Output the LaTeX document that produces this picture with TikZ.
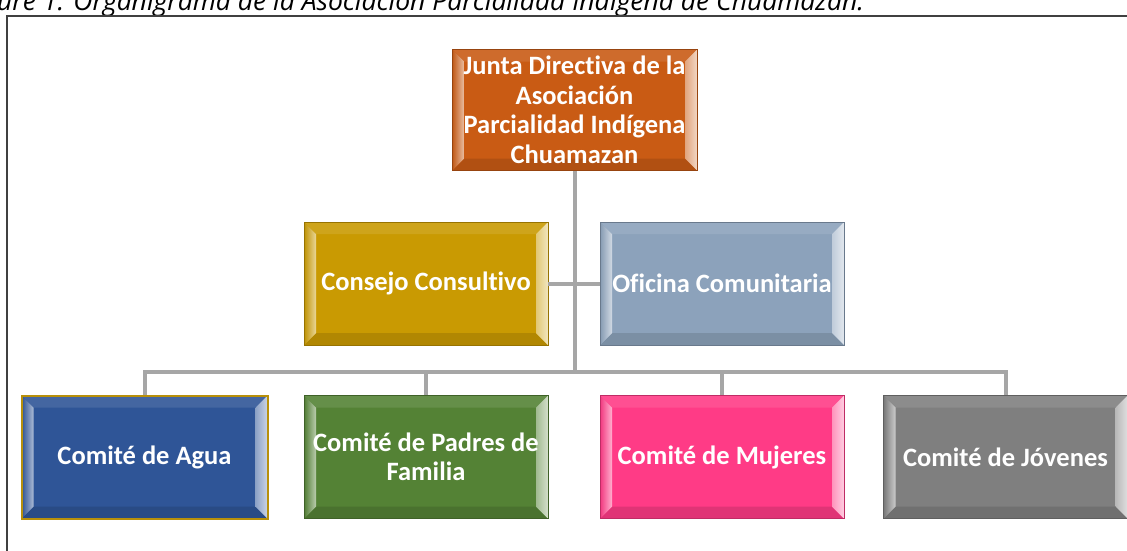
\documentclass[tikz,border=0pt]{standalone}
\usepackage{fontspec}
\setmainfont{Carlito}[Ligatures={NoCommon}]
\newfontfamily\capfont{Open Sans}
\usetikzlibrary{calc}
\definecolor{cJunta}{HTML}{C95B14}
\definecolor{cConsejo}{HTML}{C99A02}
\definecolor{cOficina}{HTML}{8CA2BB}
\definecolor{cAgua}{HTML}{2F5597}
\definecolor{cPadres}{HTML}{548235}
\definecolor{cMujeres}{HTML}{FF3B86}
\definecolor{cJovenes}{HTML}{7F7F7F}
\definecolor{cConn}{HTML}{A6A6A6}
\definecolor{cFrame}{HTML}{404040}
\definecolor{cGoldLine}{HTML}{B8900A}
\newcommand\bevelfill[1]{%
  \path (path picture bounding box.north west) coordinate (bvA)
        (path picture bounding box.north east) coordinate (bvB)
        (path picture bounding box.south east) coordinate (bvC)
        (path picture bounding box.south west) coordinate (bvD);
  \path ($(bvA)+(12,12)$) coordinate (bva)
        ($(bvB)+(-12,12)$) coordinate (bvb)
        ($(bvC)+(-12,-12)$) coordinate (bvc)
        ($(bvD)+(12,-12)$) coordinate (bvd);
  \fill[#1!90!white] (bvA) -- (bvB) -- (bvb) -- (bva) -- cycle;
  \fill[#1!88!black] (bvD) -- (bvC) -- (bvc) -- (bvd) -- cycle;
  \fill[left color=#1!95!black, right color=#1!40!white] (bvA) -- (bva) -- (bvd) -- (bvD) -- cycle;
  \fill[left color=#1!55!white, right color=#1!25!white] (bvB) -- (bvb) -- (bvc) -- (bvC) -- cycle;
}
\tikzset{
  bevel/.style={draw=#1!75!black, fill=#1, line width=0.8pt, inner sep=0pt,
    text=white, align=center, font=\fontsize{26.5}{29.5}\selectfont\bfseries,
    path picture={\bevelfill{#1}}},
  boxsize/.style={minimum width=244pt, minimum height=123pt},
  conn/.style={draw=cConn, line width=4pt, line join=miter},
}
\begin{document}
\begin{tikzpicture}[x=1pt,y=-1pt]
\useasboundingbox (0,0) rectangle (1127,550);
\clip (0,0) rectangle (1127,550);
\fill[white] (0,0) rectangle (1127,550);
% caption and frame
\node[anchor=base west, inner sep=0pt, font=\capfont\fontsize{26.5}{30}\selectfont\itshape, text=black] (cap) at (-3,10)
  {ure 1. Organigrama de la Asociación Parcialidad Indígena de Chuamazan.};
\draw[cFrame, line width=1.3pt] (7,570) -- (7,16) -- (1140,16);
% boxes
\node[bevel=cJunta, minimum width=245pt, minimum height=121pt] (junta) at (574.5,110)
  {Junta Directiva de la\\Asociación\\Parcialidad Indígena\\Chuamazan};
\node[bevel=cConsejo, boxsize] (consejo) at (426,283.5) {Consejo Consultivo};
\node[bevel=cOficina, boxsize] (oficina) at (722,283.5) {Oficina Comunitaria};
\node[bevel=cAgua, boxsize, minimum width=246pt, draw=cGoldLine, line width=2pt] (agua) at (144.5,457) {Comité de Agua};
\node[bevel=cPadres, boxsize] (padres) at (426,457) {Comité de Padres de\\Familia};
\node[bevel=cMujeres, boxsize] (mujeres) at (722,457) {Comité de Mujeres};
\node[bevel=cJovenes, boxsize] (jovenes) at (1005.5,457) {Comité de Jóvenes};
% connectors
\coordinate (bus) at (574.5,372);
\draw[conn] (junta.south) -- (bus);
\draw[conn] (consejo.east) -- (oficina.west);
\draw[conn] (agua.north) |- (bus) -| (jovenes.north);
\draw[conn] (padres.north) -- (padres.north |- bus);
\draw[conn] (mujeres.north) -- (mujeres.north |- bus);
\end{tikzpicture}
\end{document}
